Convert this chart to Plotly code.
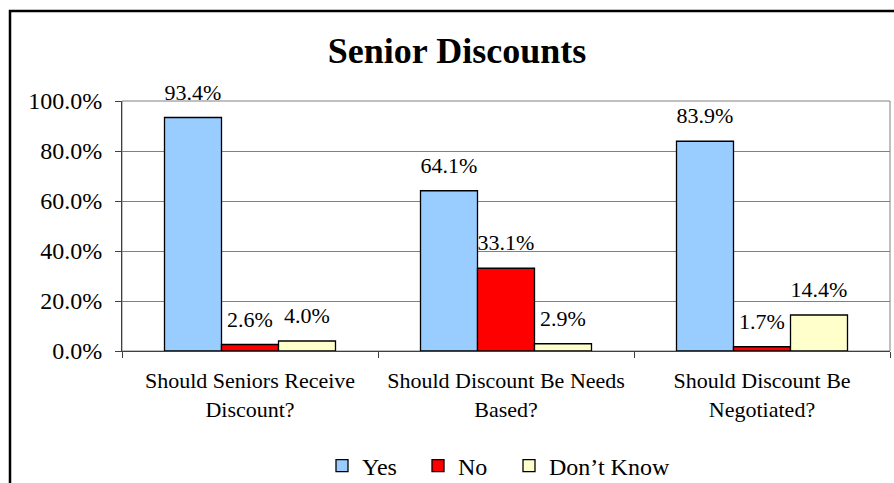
import plotly.graph_objects as go

categories = ["Should Seniors Receive<br>Discount?",
              "Should Discount Be Needs<br>Based?",
              "Should Discount Be<br>Negotiated?"]
series_names = ["Yes", "No", "Don\u2019t Know"]
yes_vals = [0.934, 0.641, 0.839]
no_vals = [0.026, 0.331, 0.017]
dk_vals = [0.040, 0.029, 0.144]
colors = ["#99CCFF", "#FF0000", "#FFFFCC"]
y_ticks = [0, 0.2, 0.4, 0.6, 0.8, 1.0]

FONT = "Liberation Serif"
W, H = 894, 483
L, R, T, B = 122, 4, 101, 132
pw, ph = W - L - R, H - T - B
label_pad = 0.04
legend_ids = ["legend", "legend2", "legend3"]
legend_left_px = [336, 432, 523]

fig = go.Figure()
for i, (name, vals) in enumerate(zip(series_names, [yes_vals, no_vals, dk_vals])):
    fig.add_trace(go.Bar(
        x=categories, y=vals, name=name, offsetgroup=str(i),
        marker=dict(color=colors[i], line=dict(color="black", width=1.3)),
        legend=legend_ids[i], hoverinfo="skip",
    ))
for i, vals in enumerate([yes_vals, no_vals, dk_vals]):
    fig.add_trace(go.Bar(
        x=categories, y=[label_pad] * len(vals), base=vals, offsetgroup=str(i),
        marker=dict(color="rgba(0,0,0,0)", line=dict(width=0)),
        text=[f"{v*100:.1f}%" for v in vals], textposition="outside",
        constraintext="none", cliponaxis=False,
        textfont=dict(family=FONT, size=22, color="black"),
        showlegend=False, hoverinfo="skip",
    ))

def px_x(x):
    return (x - L) / pw

def px_y(y):
    return (H - B - y) / ph

legend_common = dict(orientation="h", xref="container", yref="container",
                     xanchor="left", y=1 - 466 / H, yanchor="middle",
                     font=dict(family=FONT, size=24), itemwidth=30,
                     bgcolor="rgba(0,0,0,0)")

fig.update_layout(
    width=W, height=H,
    margin=dict(l=L, r=R, t=T, b=B, autoexpand=False),
    paper_bgcolor="white", plot_bgcolor="white",
    barmode="group", bargap=0.332, bargroupgap=0,
    font=dict(family=FONT, size=22, color="black"),
    title=dict(text="<b>Senior Discounts</b>", x=457 / W, xanchor="center",
               y=1 - 50 / H, yanchor="middle",
               font=dict(family=FONT, size=36, color="black")),
    legend=dict(x=(legend_left_px[0] - 14) / W, **legend_common),
    legend2=dict(x=(legend_left_px[1] - 14) / W, **legend_common),
    legend3=dict(x=(legend_left_px[2] - 14) / W, **legend_common),
    xaxis=dict(type="category", tickson="boundaries", ticks="outside", ticklen=6,
               tickcolor="#404040", showline=True, linecolor="#404040", linewidth=1,
               showgrid=False, tickfont=dict(family=FONT, size=22), automargin=False,
               ticklabelstandoff=10),
    yaxis=dict(range=[0, 1.0], tickvals=y_ticks, tickformat=".1%", ticks="outside",
               ticklen=6, tickcolor="#404040", showline=True, linecolor="#404040",
               linewidth=1, showgrid=True, gridcolor="#808080", gridwidth=1,
               zeroline=False, tickfont=dict(family=FONT, size=24), automargin=False,
               ticklabelstandoff=8),
    shapes=[
        dict(type="rect", xref="paper", yref="paper", x0=0, x1=1, y0=0, y1=1,
             line=dict(color="#808080", width=1), fillcolor="rgba(0,0,0,0)", layer="below"),
        dict(type="rect", xref="paper", yref="paper", x0=px_x(10), x1=px_x(900),
             y0=px_y(495), y1=px_y(11), line=dict(color="black", width=2.5),
             fillcolor="rgba(0,0,0,0)"),
    ],
)

fig.write_html("out.html", config={"displayModeBar": False},
               post_script="document.body.style.margin='0';document.body.style.overflow='hidden';")
